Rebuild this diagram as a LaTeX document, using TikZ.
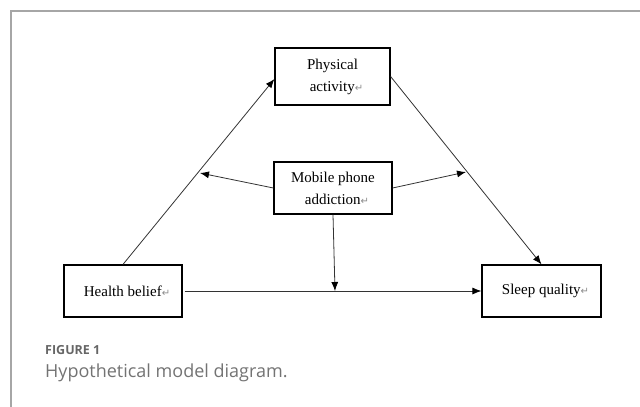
\documentclass[tikz,border=0pt]{standalone}
\usepackage{fontspec}
\setmainfont{Liberation Serif}
\newfontfamily\capfont{Open Sans}
\newfontfamily\symfont{DejaVu Sans}
\usetikzlibrary{arrows.meta}
\newcommand{\retmark}{{\color{black!45}\symfont\fontsize{10}{10}\selectfont ↵}}
\tikzset{
  varbox/.style={draw=black, line width=1.2pt, fill=white, align=center,
    font=\fontsize{15}{22}\selectfont, inner sep=0pt},
  link/.style={draw=black!80, line width=0.8pt},
  arr/.style={link, -{Latex[length=9pt,width=7pt,fill=black,color=black]}}
}
\begin{document}
\begin{tikzpicture}[x=1pt,y=-1pt]
\useasboundingbox (0,0) rectangle (640,407);
% frame
\draw[black!35, line width=1.4pt] (640,11) -- (11,11) -- (11,407);
% nodes
\node[varbox, minimum width=115pt, minimum height=57pt] (phys) at (332.5,76.5) {Physical\\\hspace*{8pt}activity\retmark};
\node[varbox, minimum width=118pt, minimum height=52pt] (mob) at (333,188) {Mobile phone\\\hspace*{8pt}addiction\retmark};
\node[varbox, minimum width=118pt, minimum height=52pt] (health) at (123,291) {\hspace*{8pt}Health belief\retmark};
\node[varbox, minimum width=119pt, minimum height=52pt] (sleep) at (541.5,291) {\hspace*{8pt}Sleep quality\retmark};
% free ends
\coordinate (L) at (200,173);
\coordinate (R) at (466,172);
\coordinate (D) at (335,291);
% connectors
\draw[arr] (health.north) -- ([yshift=-2.5pt]phys.west);
\draw[arr] (phys.east) -- (sleep.north);
\draw[arr] ([xshift=2pt]health.east) -- (sleep.west);
\draw[arr] (mob.west) -- (L);
\draw[arr] (mob.east) -- (R);
\draw[arr] (mob.south) -- (D);
% caption
\node[anchor=base west, inner sep=0pt, font=\capfont\bfseries\fontsize{12.5}{14}\selectfont, text=black!60] (figlab) at (45,354) {FIGURE 1};
\node[anchor=base west, inner sep=0pt, font=\capfont\fontsize{18}{22}\selectfont, text=black!55] (figcap) at (45,377) {Hypothetical model diagram.};
\end{tikzpicture}
\end{document}
